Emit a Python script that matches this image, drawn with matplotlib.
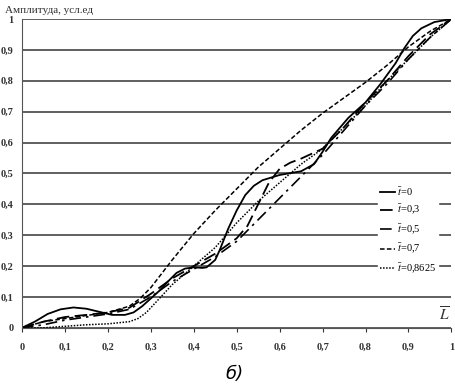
import matplotlib
matplotlib.use("Agg")
import matplotlib.pyplot as plt

plt.rcParams["font.family"] = ["Liberation Serif", "DejaVu Serif"]
plt.rcParams["mathtext.fontset"] = "stix"

# t = 0 (solid)
x0 = [0, 0.03, 0.06, 0.09, 0.12, 0.15, 0.18, 0.21, 0.24, 0.26, 0.28, 0.3, 0.32, 0.34,
      0.36, 0.38, 0.4, 0.42, 0.43, 0.45, 0.46, 0.48, 0.5, 0.52, 0.54, 0.56, 0.6, 0.65,
      0.68, 0.7, 0.72, 0.76, 0.8, 0.835, 0.87, 0.89, 0.91, 0.93, 0.96, 1.0]
y0 = [0, 0.02, 0.045, 0.06, 0.066, 0.062, 0.052, 0.042, 0.042, 0.05, 0.07, 0.095,
      0.12, 0.15, 0.178, 0.192, 0.196, 0.194, 0.196, 0.22, 0.25, 0.32, 0.38, 0.43,
      0.46, 0.478, 0.495, 0.507, 0.53, 0.57, 0.615, 0.68, 0.73, 0.79, 0.857, 0.905,
      0.945, 0.97, 0.99, 1.0]

# t = 0,3 (long dash)
x1 = [0, 0.05, 0.1, 0.15, 0.2, 0.25, 0.3, 0.35, 0.4, 0.45, 0.5, 0.525, 0.55, 0.575,
      0.6, 0.625, 0.65, 0.7, 0.75, 0.8, 0.85, 0.9, 0.95, 1.0]
y1 = [0, 0.02, 0.035, 0.042, 0.05, 0.065, 0.11, 0.16, 0.2, 0.24, 0.29, 0.33, 0.4,
      0.47, 0.515, 0.535, 0.548, 0.58, 0.65, 0.73, 0.8, 0.88, 0.95, 1.0]

# t = 0,5 (dash-dot)
x2 = [0, 0.05, 0.1, 0.15, 0.2, 0.25, 0.3, 0.35, 0.4, 0.45, 0.5, 0.55, 0.6, 0.65, 0.7,
      0.75, 0.8, 0.85, 0.9, 0.95, 1.0]
y2 = [0, 0.01, 0.025, 0.035, 0.045, 0.06, 0.1, 0.15, 0.19, 0.23, 0.28, 0.35, 0.42,
      0.49, 0.56, 0.64, 0.72, 0.79, 0.87, 0.94, 1.0]

# t = 0,7 (short dash)
x3 = [0, 0.05, 0.1, 0.15, 0.2, 0.25, 0.275, 0.3, 0.325, 0.35, 0.4, 0.45, 0.5, 0.55,
      0.6, 0.65, 0.7, 0.75, 0.8, 0.85, 0.9, 0.95, 1.0]
y3 = [0, 0.02, 0.03, 0.04, 0.05, 0.07, 0.095, 0.13, 0.175, 0.22, 0.305, 0.38, 0.45,
      0.52, 0.58, 0.64, 0.695, 0.745, 0.795, 0.85, 0.91, 0.96, 1.0]

# t = 0,8625 (dotted)
x4 = [0, 0.05, 0.1, 0.15, 0.2, 0.25, 0.27, 0.29, 0.31, 0.33, 0.35, 0.4, 0.45, 0.5,
      0.55, 0.6, 0.65, 0.7, 0.75, 0.8, 0.85, 0.9, 0.95, 1.0]
y4 = [0, 0.0, 0.005, 0.01, 0.013, 0.02, 0.03, 0.05, 0.08, 0.11, 0.14, 0.2, 0.26,
      0.34, 0.41, 0.47, 0.53, 0.58, 0.65, 0.72, 0.8, 0.87, 0.94, 1.0]

labels = [r"$\bar{t}$=0", r"$\bar{t}$=0,3", r"$\bar{t}$=0,5",
          r"$\bar{t}$=0,7", r"$\bar{t}$=0,8625"]
ticks = [0, 0.1, 0.2, 0.3, 0.4, 0.5, 0.6, 0.7, 0.8, 0.9, 1]
tick_labels = ["0", "0,1", "0,2", "0,3", "0,4", "0,5", "0,6", "0,7", "0,8", "0,9", "1"]

fig = plt.figure(figsize=(4.56, 3.88), dpi=100)
ax = fig.add_axes([0.048, 0.155, 0.942, 0.796])

ax.plot(x0, y0, color="black", lw=1.3, linestyle="-", label=labels[0])
ax.plot(x1, y1, color="black", lw=1.3, linestyle=(0, (7, 3)), label=labels[1])
ax.plot(x2, y2, color="black", lw=1.2, linestyle=(0, (7, 3, 1.5, 3)), label=labels[2])
ax.plot(x3, y3, color="black", lw=1.1, linestyle=(0, (3, 1.5)), label=labels[3])
ax.plot(x4, y4, color="black", lw=1.1, linestyle=(0, (1, 1)), label=labels[4])

ax.set_xlim(0, 1)
ax.set_ylim(0, 1)
ax.set_xticks(ticks)
ax.set_xticklabels(tick_labels)
ax.set_yticks(ticks)
ax.set_yticklabels(tick_labels)
ax.tick_params(axis="x", length=3, labelsize=7.5, pad=8, colors="#333333")
ax.tick_params(axis="y", length=0, labelsize=7.5, pad=6, colors="#333333")
for t in ax.get_xticklabels() + ax.get_yticklabels():
    t.set_fontweight("bold")
ax.grid(True, axis="y", color="#444444", lw=1.2)
ax.spines["top"].set_visible(False)
ax.spines["right"].set_visible(False)
ax.spines["left"].set_color("#555555")
ax.spines["bottom"].set_color("#555555")

leg = ax.legend(loc="upper left", bbox_to_anchor=(0.83, 0.47), frameon=True,
                fontsize=7.5, handlelength=1.4, handletextpad=0.2,
                labelspacing=0.5, borderpad=0.2, borderaxespad=0)
leg.get_frame().set_edgecolor("white")
leg.get_frame().set_facecolor("white")
leg.get_frame().set_alpha(1)

fig.text(0.012, 0.985, "Амплитуда, усл.ед", fontsize=8, va="top", ha="left",
         color="#333333")
fig.text(0.985, 0.188, r"$\overline{L}$", fontsize=11, ha="right", va="center",
         color="#333333")
fig.text(0.515, 0.035, "б)", fontsize=13, style="italic", ha="center", va="center",
         family=["DejaVu Sans"])

plt.savefig("out.png", dpi=100)
plt.close()
